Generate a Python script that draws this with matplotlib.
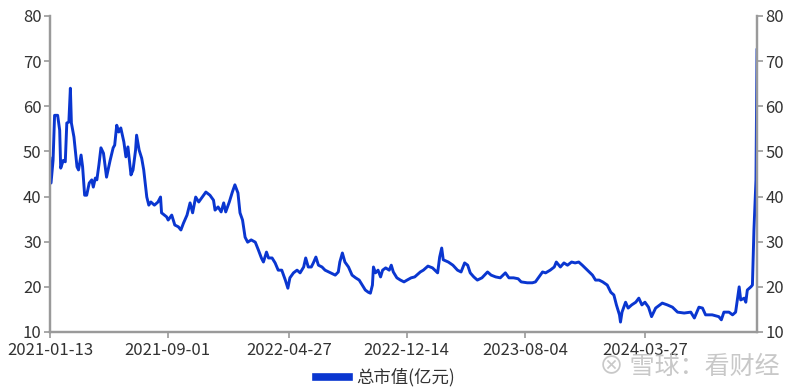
import matplotlib
matplotlib.use("Agg")
import matplotlib.pyplot as plt
import pandas as pd

plt.rcParams['font.family'] = ['Noto Sans CJK SC', 'DejaVu Sans']

dates = [
    "2021-01-13", "2021-01-15", "2021-01-19", "2021-01-22", "2021-01-28", "2021-02-01",
    "2021-02-03", "2021-02-08", "2021-02-12", "2021-02-15", "2021-02-19", "2021-02-22",
    "2021-02-24", "2021-03-01", "2021-03-07", "2021-03-10", "2021-03-15", "2021-03-18",
    "2021-03-22", "2021-03-26", "2021-03-31", "2021-04-05", "2021-04-08", "2021-04-12",
    "2021-04-15", "2021-04-19", "2021-04-23", "2021-04-28", "2021-05-04", "2021-05-11",
    "2021-05-17", "2021-05-20", "2021-05-24", "2021-05-28", "2021-06-01", "2021-06-07",
    "2021-06-11", "2021-06-15", "2021-06-21", "2021-06-25", "2021-06-30", "2021-07-02",
    "2021-07-07", "2021-07-12", "2021-07-16", "2021-07-22", "2021-07-26", "2021-07-30",
    "2021-08-06", "2021-08-13", "2021-08-18", "2021-08-20", "2021-08-30",
    "2021-09-02", "2021-09-09", "2021-09-15", "2021-09-22", "2021-09-27", "2021-10-02",
    "2021-10-09", "2021-10-15", "2021-10-20", "2021-10-26", "2021-11-01", "2021-11-08",
    "2021-11-15", "2021-11-23", "2021-11-30", "2021-12-03", "2021-12-09", "2021-12-15",
    "2021-12-20", "2021-12-24", "2021-12-31", "2022-01-06", "2022-01-11", "2022-01-17",
    "2022-01-21", "2022-01-26", "2022-01-31", "2022-02-05", "2022-02-12", "2022-02-20",
    "2022-02-26", "2022-03-04", "2022-03-08", "2022-03-14", "2022-03-18", "2022-03-25",
    "2022-03-31", "2022-04-06", "2022-04-13", "2022-04-20", "2022-04-25",
    "2022-04-29", "2022-05-06", "2022-05-13", "2022-05-19", "2022-05-26", "2022-05-30",
    "2022-06-04", "2022-06-10", "2022-06-14", "2022-06-19", "2022-06-24", "2022-07-01",
    "2022-07-07", "2022-07-18", "2022-07-27", "2022-08-02", "2022-08-05", "2022-08-10",
    "2022-08-15", "2022-08-22", "2022-08-29", "2022-09-05", "2022-09-12", "2022-09-18",
    "2022-09-24", "2022-09-30", "2022-10-04", "2022-10-08", "2022-10-10", "2022-10-14",
    "2022-10-19", "2022-10-24", "2022-10-28", "2022-11-03", "2022-11-10", "2022-11-14",
    "2022-11-18", "2022-11-25", "2022-12-02", "2022-12-09", "2022-12-15", "2022-12-23",
    "2022-12-30", "2023-01-10", "2023-01-16", "2023-01-25", "2023-02-03", "2023-02-13",
    "2023-02-17", "2023-02-21", "2023-02-24", "2023-03-06", "2023-03-15", "2023-03-24",
    "2023-03-31", "2023-04-07", "2023-04-13", "2023-04-18", "2023-04-25", "2023-05-02",
    "2023-05-11", "2023-05-22", "2023-05-29", "2023-06-07", "2023-06-16", "2023-06-26",
    "2023-07-03", "2023-07-12", "2023-07-21", "2023-07-27", "2023-08-08", "2023-08-18",
    "2023-08-24", "2023-08-31", "2023-09-07", "2023-09-13", "2023-09-22", "2023-09-30",
    "2023-10-04", "2023-10-12", "2023-10-19", "2023-10-26", "2023-11-03", "2023-11-10",
    "2023-11-17", "2023-11-24", "2023-12-04", "2023-12-14", "2023-12-20", "2023-12-27",
    "2024-01-03", "2024-01-12", "2024-01-19", "2024-01-25", "2024-01-30", "2024-02-05",
    "2024-02-07", "2024-02-10", "2024-02-17", "2024-02-22", "2024-02-29", "2024-03-08",
    "2024-03-14", "2024-03-20", "2024-03-26", "2024-04-02", "2024-04-08", "2024-04-16",
    "2024-04-29", "2024-05-09", "2024-05-19", "2024-05-29", "2024-06-11", "2024-06-24",
    "2024-07-01", "2024-07-10", "2024-07-17", "2024-07-23", "2024-08-05", "2024-08-18",
    "2024-08-23", "2024-08-28", "2024-09-07", "2024-09-14", "2024-09-20", "2024-09-27",
    "2024-09-30", "2024-10-07", "2024-10-10", "2024-10-13", "2024-10-20", "2024-10-23",
    "2024-10-26", "2024-10-30", "2024-11-01",
]

market_cap = [
    48.5, 43.0, 48.0, 58.0, 58.0, 54.7,
    46.3, 48.0, 47.7, 56.3, 56.5, 64.0,
    56.3, 53.2, 46.6, 45.9, 49.2, 46.6,
    40.3, 40.3, 43.0, 43.7, 42.1, 44.1,
    43.7, 47.0, 50.8, 49.6, 44.3, 48.0,
    50.8, 51.4, 55.8, 54.3, 55.2, 52.1,
    48.8, 51.0, 44.8, 45.9, 50.3, 53.6,
    50.3, 48.5, 45.9, 39.9, 38.1, 38.8,
    38.1, 38.8, 39.9, 36.4, 35.5,
    34.8, 35.9, 33.7, 33.3, 32.6, 34.1,
    35.9, 38.6, 36.4, 39.9, 38.8, 39.9,
    41.0, 40.3, 39.2, 37.0, 37.7, 36.6,
    38.6, 36.6, 38.8, 41.0, 42.6, 40.8,
    36.4, 34.8, 31.0, 29.9, 30.4, 29.9,
    28.2, 26.4, 25.5, 27.7, 26.4, 26.4,
    25.3, 23.7, 23.7, 21.5, 19.7,
    22.0, 23.1, 23.7, 23.1, 24.4, 26.4,
    24.4, 24.4, 25.3, 26.6, 24.8, 24.4,
    23.7, 23.1, 22.6, 23.3, 25.5, 27.5,
    25.5, 24.4, 22.6, 22.0, 21.5, 20.4,
    19.3, 18.8, 18.6, 20.4, 24.4, 23.1,
    23.7, 22.2, 23.7, 24.2, 23.7, 24.8,
    23.3, 22.0, 21.5, 21.1, 21.5, 22.0,
    22.2, 23.3, 23.7, 24.6, 24.2, 23.1,
    26.6, 28.6, 26.0, 25.5, 24.8, 23.7,
    23.3, 25.3, 24.8, 23.1, 22.2, 21.5,
    22.0, 23.3, 22.6, 22.2, 22.0, 23.1,
    22.0, 22.0, 21.8, 21.1, 20.9, 20.9,
    21.1, 22.2, 23.3, 23.1, 23.7, 24.4,
    25.5, 24.4, 25.3, 24.8, 25.5, 25.3,
    25.5, 24.8, 23.7, 22.6, 21.5, 21.5,
    21.1, 20.4, 18.8, 18.2, 16.0, 13.8,
    12.2, 14.4, 16.6, 15.3, 16.0, 16.6,
    17.5, 16.0, 16.6, 15.5, 13.4, 15.3,
    16.4, 16.0, 15.5, 14.4, 14.2, 14.4,
    13.1, 15.5, 15.3, 13.8, 13.8, 13.4,
    12.7, 14.4, 14.4, 13.8, 14.4, 20.0,
    17.1, 17.5, 16.6, 19.3, 20.0, 20.4,
    32.6, 43.7, 72.5,
]

tick_labels = ["2021-01-13", "2021-09-01", "2022-04-27", "2022-12-14", "2023-08-04", "2024-03-27"]
y_ticks = [10, 20, 30, 40, 50, 60, 70, 80]
series_name = "总市值(亿元)"

x = pd.to_datetime(dates)
tick_pos = pd.to_datetime(tick_labels)

fig = plt.figure(figsize=(8, 3.9), dpi=100)
ax = fig.add_axes([50/800, 1 - 332/390, 707/800, 316/390])
line_color = "#0a36d0"
axis_color = "#9a9a9a"
ax.plot(x, market_cap, color=line_color, lw=2.1, label=series_name, solid_joinstyle="round")
ax.set_xlim(pd.Timestamp("2021-01-13"), pd.Timestamp("2024-11-01"))
ax.set_ylim(10, 80)
ax.set_yticks(y_ticks)
ax.set_xticks(tick_pos)
ax.set_xticklabels(tick_labels)

ax2 = ax.twinx()
ax2.set_ylim(10, 80)
ax2.set_yticks(y_ticks)

for a in (ax, ax2):
    a.spines['top'].set_visible(False)
    for s in ('left', 'right', 'bottom'):
        a.spines[s].set_color(axis_color)
        a.spines[s].set_linewidth(1.6)
    a.tick_params(axis='both', colors=axis_color, labelcolor="#333333", labelsize=12,
                  length=4, width=1.2, direction='out', pad=2)
ax.tick_params(axis='x', pad=3)
ax.patch.set_visible(False)

h, l = ax.get_legend_handles_labels()
leg = fig.legend(h, l, loc='center', bbox_to_anchor=(0.482, 0.032), frameon=False,
                 fontsize=12.5, handlelength=1.9, handletextpad=0.45)
for ln in leg.get_lines():
    ln.set_linewidth(5.5)
for t in leg.get_texts():
    t.set_color("#333333")

fig.text(0.975, 0.058, "⊗ 雪球：看财经", ha='right', va='center', fontsize=18,
         color="#bbbbbb", alpha=0.8, family=['Noto Sans CJK SC', 'DejaVu Sans'])

fig.savefig("out.png", dpi=100)
